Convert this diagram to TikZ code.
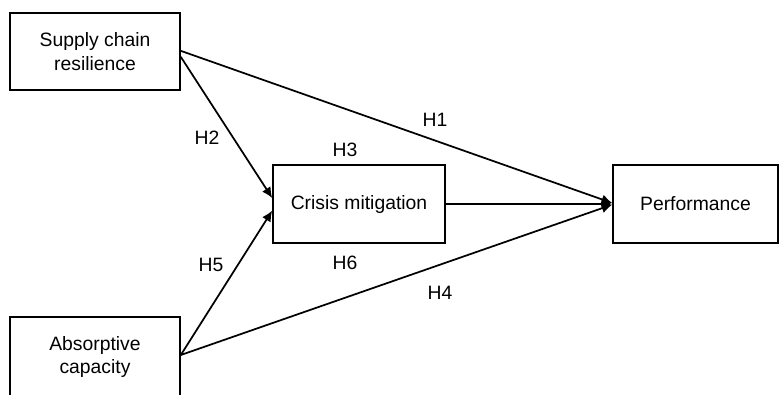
\documentclass[tikz,border=0pt]{standalone}
\usepackage{fontspec}
\setmainfont{Liberation Sans}
\usetikzlibrary{arrows.meta, calc}

\begin{document}
\begin{tikzpicture}[x=0.75pt, y=-0.75pt,
        every node/.style={font=\fontsize{14.5}{17.5}\selectfont},
        construct/.style={draw, line width=1.2pt, align=center, inner sep=0pt},
        hyp/.style={line width=1.3pt, -{Latex[length=8pt, width=7.5pt]}},
        hlabel/.style={inner sep=1pt}]
    \useasboundingbox (0,0) rectangle (779,394);

    % constructs
    \node[construct, minimum width=127.5pt, minimum height=57.75pt] (scr) at (95, 51.5) {Supply chain\\resilience};
    \node[construct, minimum width=127.5pt, minimum height=60pt] (abs) at (95, 357) {Absorptive\\capacity};
    \node[construct, minimum width=129pt, minimum height=58.5pt] (cm) at (359, 204) {Crisis mitigation};
    \node[construct, minimum width=123.75pt, minimum height=58.5pt] (perf) at (695.5, 204) {Performance};

    % hypotheses
    \draw[hyp] ([yshift=-4pt]scr.east) -- ([yshift=4.5pt]cm.west);
    \draw[hyp] ([yshift=0.5pt]scr.east) -- ([yshift=0.75pt]perf.west);
    \draw[hyp] ([yshift=1.5pt]abs.east) -- ([yshift=-5pt]cm.west);
    \draw[hyp] ([yshift=1.5pt]abs.east) -- ([yshift=-0.5pt]perf.west);
    \draw[hyp] (cm.east) -- (perf.west);

    \node[hlabel] (h1) at (435, 120) {H1};
    \node[hlabel] (h2) at (207, 138) {H2};
    \node[hlabel] (h3) at (345, 150) {H3};
    \node[hlabel] (h4) at (440, 293) {H4};
    \node[hlabel] (h5) at (211, 265) {H5};
    \node[hlabel] (h6) at (345, 263) {H6};
\end{tikzpicture}
\end{document}
